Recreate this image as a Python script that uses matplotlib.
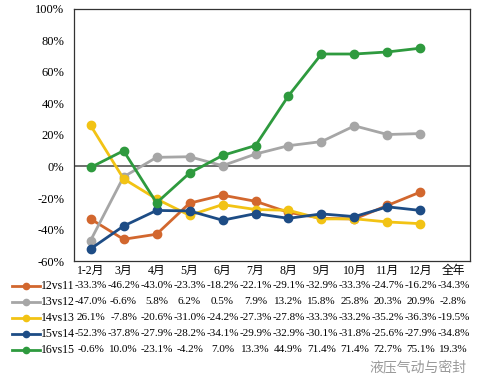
import matplotlib.pyplot as plt
import matplotlib.transforms as mtransforms
import numpy as np

plt.rcParams['font.family'] = ['Liberation Serif', 'Noto Sans CJK SC']

months = ['1-2月', '3月', '4月', '5月', '6月', '7月', '8月', '9月', '10月', '11月', '12月', '全年']
series = ['12vs11', '13vs12', '14vs13', '15vs14', '16vs15']
v12vs11 = [-33.3, -46.2, -43.0, -23.3, -18.2, -22.1, -29.1, -32.9, -33.3, -24.7, -16.2, -34.3]
v13vs12 = [-47.0, -6.6, 5.8, 6.2, 0.5, 7.9, 13.2, 15.8, 25.8, 20.3, 20.9, -2.8]
v14vs13 = [26.1, -7.8, -20.6, -31.0, -24.2, -27.3, -27.8, -33.3, -33.2, -35.2, -36.3, -19.5]
v15vs14 = [-52.3, -37.8, -27.9, -28.2, -34.1, -29.9, -32.9, -30.1, -31.8, -25.6, -27.9, -34.8]
v16vs15 = [-0.6, 10.0, -23.1, -4.2, 7.0, 13.3, 44.9, 71.4, 71.4, 72.7, 75.1, 19.3]
values = [v12vs11, v13vs12, v14vs13, v15vs14, v16vs15]
colors = ['#D2672E', '#A6A6A6', '#F2C314', '#1D4C85', '#2E9A3E']

fig = plt.figure(figsize=(4.81, 3.89), dpi=100)
ax = fig.add_axes([0.154, 0.329, 0.823, 0.648])

x = np.arange(len(months))
for vals, c in zip(values, colors):
    # monthly points only, the full-year value goes in the table
    ax.plot(x[:-1], vals[:-1], color=c, lw=2, marker='o', ms=6, zorder=3)

ax.axhline(0, color='#555555', lw=1.2, zorder=2)
ax.set_xlim(-0.5, len(months) - 0.5)
ax.set_ylim(-60, 100)
ax.set_yticks(np.arange(-60, 101, 20))
ax.set_yticklabels(['%d%%' % t for t in np.arange(-60, 101, 20)], fontsize=9)
ax.set_xticks(x)
ax.set_xticklabels(months, fontsize=8.5)
ax.tick_params(axis='y', length=0, pad=7)
ax.tick_params(axis='x', length=0, pad=3)
for s in ax.spines.values():
    s.set_color('#333333')
    s.set_linewidth(0.9)

# data table under the chart
trans = mtransforms.blended_transform_factory(ax.transData, fig.transFigure)
row_y = [286, 302, 318, 334, 350]
for name, vals, c, yp in zip(series, values, colors, row_y):
    yf = 1 - yp / 389
    fig.add_artist(plt.Line2D([12 / 481, 40 / 481], [yf, yf], color=c, lw=2,
                              transform=fig.transFigure))
    fig.add_artist(plt.Line2D([26 / 481], [yf], color=c, marker='o', ms=4.5,
                              transform=fig.transFigure))
    fig.text(41 / 481, yf, name, fontsize=8.5, va='center', ha='left')
    for xi, v in zip(x, vals):
        ax.text(xi, yf, '%.1f%%' % v, transform=trans, fontsize=8,
                ha='center', va='center', clip_on=False)

fig.text(0.97, 0.055, '液压气动与密封', fontsize=10, color='#999999', ha='right',
         va='center', family='Noto Sans CJK SC')

fig.savefig('out.png', dpi=100)
